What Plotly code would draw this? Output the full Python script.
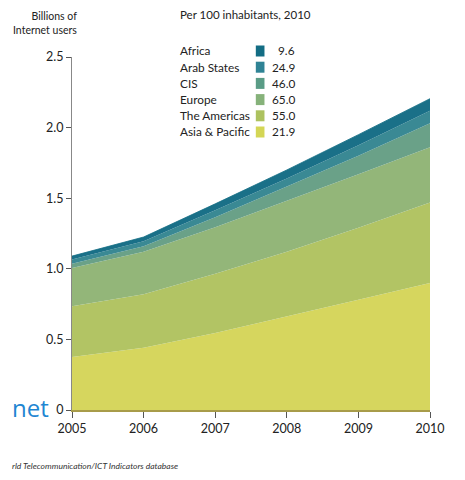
import plotly.graph_objects as go

years = [2005, 2006, 2007, 2008, 2009, 2010]
regions = ["Africa", "Arab States", "CIS", "Europe", "The Americas", "Asia & Pacific"]
per100_2010 = [9.6, 24.9, 46.0, 65.0, 55.0, 21.9]
colors = ["#136d84", "#2f8395", "#5a9c86", "#86b27a", "#adc25f", "#d4d655"]
fill_colors = ["#1a7088", "#3a8994", "#6aa188", "#93b679", "#b2c464", "#d6d65e"]

# Billions of Internet users
africa = [0.025, 0.03, 0.045, 0.06, 0.075, 0.085]
arab = [0.03, 0.035, 0.05, 0.06, 0.075, 0.09]
cis = [0.03, 0.04, 0.07, 0.10, 0.13, 0.17]
europe = [0.27, 0.30, 0.33, 0.36, 0.38, 0.39]
americas = [0.36, 0.38, 0.42, 0.46, 0.51, 0.57]
asia = [0.375, 0.44, 0.545, 0.66, 0.78, 0.90]

series = [africa, arab, cis, europe, americas, asia]

ytickvals = [0, 0.5, 1.0, 1.5, 2.0, 2.5]
yticktext = ["0", "0.5", "1.0", "1.5", "2.0", "2.5"]

FONT = "Lato, Roboto, sans-serif"

# page offset of the figure (browser body margin)
OFF = 8
W, H = 449, 464
L, T, PW, PH = 64, 49, 372, 353

fig = go.Figure()
# stack from bottom (Asia & Pacific) to top (Africa)
for i in reversed(range(len(regions))):
    fig.add_trace(go.Scatter(
        x=years, y=series[i], name=regions[i], mode="lines",
        stackgroup="one",
        line=dict(width=0.8 if i == 0 else 0, color=colors[i]),
        fillcolor=fill_colors[i],
        showlegend=False, hoverinfo="skip",
    ))

fig.update_layout(
    width=W, height=H, autosize=False,
    margin=dict(l=L, r=W - L - PW, t=T, b=H - T - PH, pad=0),
    paper_bgcolor="white", plot_bgcolor="white",
    font=dict(family=FONT, size=12, color="#222"),
    showlegend=False,
    xaxis=dict(
        range=[2005, 2010], tickvals=years, ticktext=[str(y) for y in years],
        showgrid=False, zeroline=False, showline=True, linecolor="#a89c4a",
        linewidth=1.5, ticks="outside", ticklen=6, tickcolor="#555",
        ticklabeloverflow="allow",
        tickfont=dict(family=FONT, size=12.5, color="#222"),
    ),
    yaxis=dict(
        range=[0, 2.5], tickvals=ytickvals, ticktext=yticktext,
        showgrid=False, zeroline=False, showline=True, linecolor="#888",
        linewidth=1, ticks="outside", ticklen=5, tickcolor="#555",
        tickfont=dict(family=FONT, size=12.5, color="#222"),
    ),
)


def px_x(px):
    return (px - OFF - L) / PW


def px_y(py):
    return (OFF + T + PH - py) / PH


ann = []
# y-axis title
ann.append(dict(xref="paper", yref="paper", x=px_x(79), y=px_y(38),
                xanchor="right", yanchor="bottom", align="right", showarrow=False,
                text="Billions of<br>Internet users",
                font=dict(family=FONT, size=10.5, color="#222")))

# legend title
ann.append(dict(xref="paper", yref="paper", x=px_x(182), y=px_y(15),
                xanchor="left", yanchor="middle", showarrow=False,
                text="Per 100 inhabitants, 2010",
                font=dict(family=FONT, size=11.5, color="#222")))

shapes = []
for i, (r, v) in enumerate(zip(regions, per100_2010)):
    yy = 51 + i * 16.2
    ann.append(dict(xref="paper", yref="paper", x=px_x(182), y=px_y(yy),
                    xanchor="left", yanchor="middle", showarrow=False, text=r,
                    font=dict(family=FONT, size=11.8, color="#222")))
    ann.append(dict(xref="paper", yref="paper", x=px_x(306), y=px_y(yy),
                    xanchor="right", yanchor="middle", showarrow=False,
                    text=f"{v:.1f}",
                    font=dict(family=FONT, size=11.8, color="#222")))
    shapes.append(dict(type="rect", xref="paper", yref="paper",
                       x0=px_x(263), x1=px_x(272), y0=px_y(yy + 5.5), y1=px_y(yy - 5.5),
                       fillcolor=colors[i], line=dict(width=0)))

# cropped fragments from the original page
ann.append(dict(xref="paper", yref="paper", x=px_x(8), y=px_y(407),
                xanchor="left", yanchor="middle", showarrow=False, text="net",
                font=dict(family="Open Sans, sans-serif", size=24, color="#1f86d2")))
ann.append(dict(xref="paper", yref="paper", x=px_x(8), y=px_y(466),
                xanchor="left", yanchor="middle", showarrow=False,
                text="<i>rld Telecommunication/ICT Indicators database</i>",
                font=dict(family=FONT, size=8.5, color="#333")))

fig.update_layout(annotations=ann, shapes=shapes)
fig.write_html("out.html", config={"displayModeBar": False})
